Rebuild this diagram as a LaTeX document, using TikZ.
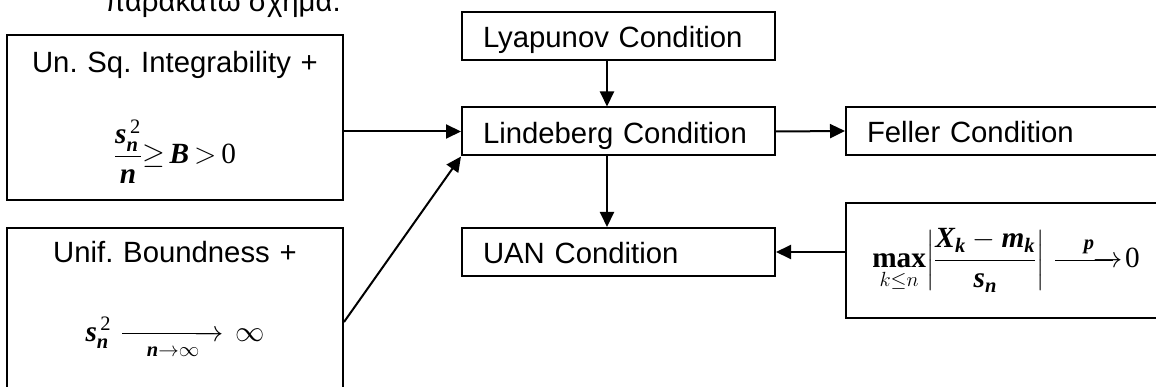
\RequirePackage{fix-cm}
\documentclass[tikz,border=0pt]{standalone}
\usepackage{amsmath}
\usepackage{fontspec}
\setmainfont{Liberation Sans}
\newfontfamily\tnr{Liberation Serif}
\usetikzlibrary{arrows.meta,positioning,calc}
\frenchspacing

% bold italic and upright letters as in the source formulas
\newcommand{\bv}[1]{\text{\tnr\bfseries\itshape #1}}
\newcommand{\rv}[1]{\text{\tnr #1}}
% long arrow with a label, width as argument
\newcommand{\longto}[1]{\vrule height 8pt depth -6.8pt width #1\mkern-12mu\rightarrow}

\begin{document}
\begin{tikzpicture}[
  x=1pt,
  y=-1pt,
  >={Triangle[length=15pt,width=14pt]},
  flow/.style={->,line width=2pt},
  cond/.style={draw,line width=2pt,align=left,inner xsep=21pt,
    minimum height=48pt,text height=24pt,text depth=0pt,
    font=\fontsize{29.3}{35}\selectfont},
  hyp/.style={draw,line width=2pt,align=center,text width=316pt,
    inner xsep=10pt,font=\fontsize{29.3}{35}\selectfont},
  intro/.style={font=\fontsize{29.3}{35}\selectfont,inner sep=0pt}
]
\clip (0,0) rectangle (1156,387);

\node[intro,anchor=base west] (greek) at (105,12) {παρακάτω σχήμα.};

\node[hyp,minimum height=165pt] (sqint) at (175,117.5)
  {Un. Sq. Integrability +\\[40pt]
   $\displaystyle\frac{\bv{s}_{\bv{n}}^{\,\rv{2}}}{\bv{n}}
   \mathord{\ge}\,\bv{B}\,\mathord{>}\,\rv{0}$};
\node[hyp,minimum height=188pt,text depth=141pt] (unifb) at (175,322)
  {Unif. Boundness +\\[44pt]
   $\bv{s}_{\bv{n}}^{\,\rv{2}}\mkern-4mu
   \mathrel{\underset{\scriptstyle\bv{n}\to\infty}{\longto{92pt}}}\mkern-4mu\infty$};

\node[cond,text width=271pt] (lyap) at (618.5,36) {Lyapunov Condition};
\node[cond,text width=271pt] (linde) at (618.5,131.5) {Lindeberg Condition};
\node[cond,text width=271pt] (uan) at (618.5,252) {UAN Condition};
\node[cond,text width=278pt] (feller) at (1006,131) {Feller Condition};
\node[hyp,text width=300pt,minimum height=115pt] (maxbox) at (1006,260.5)
  {$\mathop{\text{\tnr\bfseries max}}\limits_{k\le n}\mkern-3mu
   \left|\dfrac{\bv{X}_{\bv{k}}-\bv{m}_{\bv{k}}}{\bv{s}_{\bv{n}}}\right|
   \mathrel{\overset{\scriptstyle\bv{p}}{\longto{58pt}}}\mkern-5mu\rv{0}$};

\draw[flow] (sqint.east |- linde.west) -- (linde.west);
\draw[flow] (unifb.east) -- (linde.south west);
\draw[flow] ([xshift=-11.5pt]lyap.south) -- ([xshift=-11.5pt]linde.north);
\draw[flow] ([xshift=-11.5pt]linde.south) -- ([xshift=-11.5pt]uan.north);
\draw[flow] (linde.east) -- (feller.west);
\draw[flow] (maxbox.west |- uan.east) -- (uan.east);

\end{tikzpicture}
\end{document}
